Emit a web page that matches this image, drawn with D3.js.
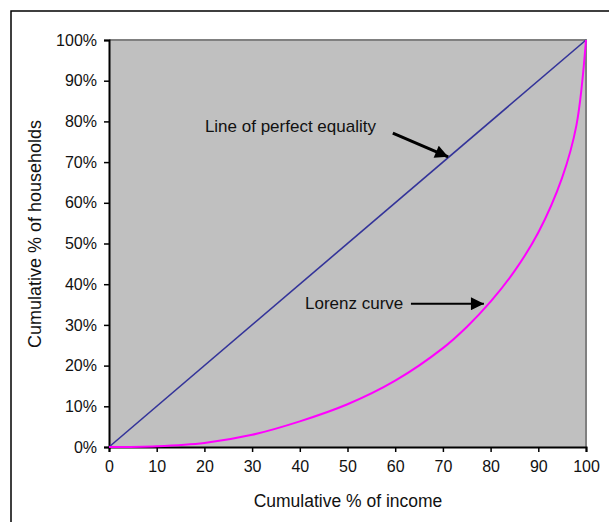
<!DOCTYPE html>
<html>
<head>
<meta charset="utf-8">
<script src="https://cdn.jsdelivr.net/npm/d3@7"></script>
<style>
  body { margin: 0; background: #fff; }
  text { font-family: "Liberation Sans", Arial, sans-serif; fill: #111; }
</style>
</head>
<body>
<svg width="609" height="522"></svg>
<script>
// data
var incomeTicks = [0, 10, 20, 30, 40, 50, 60, 70, 80, 90, 100];
var householdTicks = [0, 10, 20, 30, 40, 50, 60, 70, 80, 90, 100];
var lorenzIncome = [0, 10, 20, 30, 40, 50, 60, 70, 75, 80, 85, 90, 95, 98, 100];
var lorenzHouseholds = [0, 0.2, 1, 3, 6.3, 10.5, 16.3, 24.3, 29.5, 35.7, 43.2, 52.7, 66.2, 79.1, 100];
var equalityIncome = [0, 100];
var equalityHouseholds = [0, 100];

var svg = d3.select("svg"),
    width = +svg.attr("width"),
    height = +svg.attr("height");

var x = d3.scaleLinear().domain([0, 100]).range([109, 586]);
var y = d3.scaleLinear().domain([0, 100]).range([447, 40]);

// outer frame
svg.append("rect")
    .attr("x", 11).attr("y", 11)
    .attr("width", width).attr("height", height)
    .attr("fill", "none").attr("stroke", "#000").attr("stroke-width", 1.5);

// plot area
svg.append("rect")
    .attr("x", x(0)).attr("y", y(100))
    .attr("width", x(100) - x(0)).attr("height", y(0) - y(100))
    .attr("fill", "#c0c0c0");
svg.append("path")
    .attr("d", "M" + x(0) + "," + y(100) + "H" + x(100) + "V" + y(0))
    .attr("fill", "none").attr("stroke", "#808080").attr("stroke-width", 2);

// axes
var xAxis = svg.append("g")
    .attr("transform", "translate(0," + y(0) + ")")
    .call(d3.axisBottom(x).tickValues(incomeTicks).tickSize(5).tickPadding(9).tickFormat(d3.format("d")));
var yAxis = svg.append("g")
    .attr("transform", "translate(" + x(0) + ",0)")
    .call(d3.axisLeft(y).tickValues(householdTicks).tickSize(5).tickPadding(7).tickFormat(d => d + "%"));

[xAxis, yAxis].forEach(a => {
    a.select(".domain").attr("stroke", "#000").attr("stroke-width", 2);
    a.selectAll(".tick line").attr("stroke", "#000").attr("stroke-width", 1.5);
    a.selectAll(".tick text")
        .attr("font-family", "Liberation Sans, Arial, sans-serif")
        .attr("font-size", 16).attr("fill", "#111");
});

// lines
var eq = d3.line()
    .x((d, i) => x(equalityIncome[i]))
    .y(d => y(d));
svg.append("path")
    .datum(equalityHouseholds)
    .attr("d", eq)
    .attr("fill", "none").attr("stroke", "#333399").attr("stroke-width", 1.6);

var lorenz = d3.line()
    .x((d, i) => x(lorenzIncome[i]))
    .y(d => y(d))
    .curve(d3.curveCatmullRom.alpha(0.5));
svg.append("path")
    .datum(lorenzHouseholds)
    .attr("d", lorenz)
    .attr("fill", "none").attr("stroke", "#ff00ff").attr("stroke-width", 2);

// annotations
var defs = svg.append("defs");
defs.append("marker")
    .attr("id", "head")
    .attr("viewBox", "0 0 10 10")
    .attr("refX", 10).attr("refY", 5)
    .attr("markerUnits", "userSpaceOnUse")
    .attr("markerWidth", 14).attr("markerHeight", 13)
    .attr("orient", "auto")
    .append("path").attr("d", "M0,0L10,5L0,10Z").attr("fill", "#000");

var notes = [
    {text: "Line of perfect equality", tx: 20.1, ty: 78.9, x1: 59.5, y1: 77.1, x2: 71.1, y2: 71.3, w: 3},
    {text: "Lorenz curve", tx: 41.1, ty: 35.4, x1: 63.3, y1: 35.2, x2: 78.6, y2: 35.2, w: 2}
];

notes.forEach(n => {
    svg.append("text")
        .attr("x", x(n.tx)).attr("y", y(n.ty))
        .attr("dy", "0.35em")
        .attr("font-size", 17)
        .text(n.text);
    svg.append("line")
        .attr("x1", x(n.x1)).attr("y1", y(n.y1))
        .attr("x2", x(n.x2)).attr("y2", y(n.y2))
        .attr("stroke", "#000").attr("stroke-width", n.w)
        .attr("marker-end", "url(#head)");
});

// axis titles
svg.append("text")
    .attr("x", 348).attr("y", 507)
    .attr("text-anchor", "middle")
    .attr("font-size", 17.5)
    .text("Cumulative % of income");

svg.append("text")
    .attr("transform", "translate(41,234) rotate(-90)")
    .attr("text-anchor", "middle")
    .attr("font-size", 18)
    .text("Cumulative % of households");
</script>
</body>
</html>
